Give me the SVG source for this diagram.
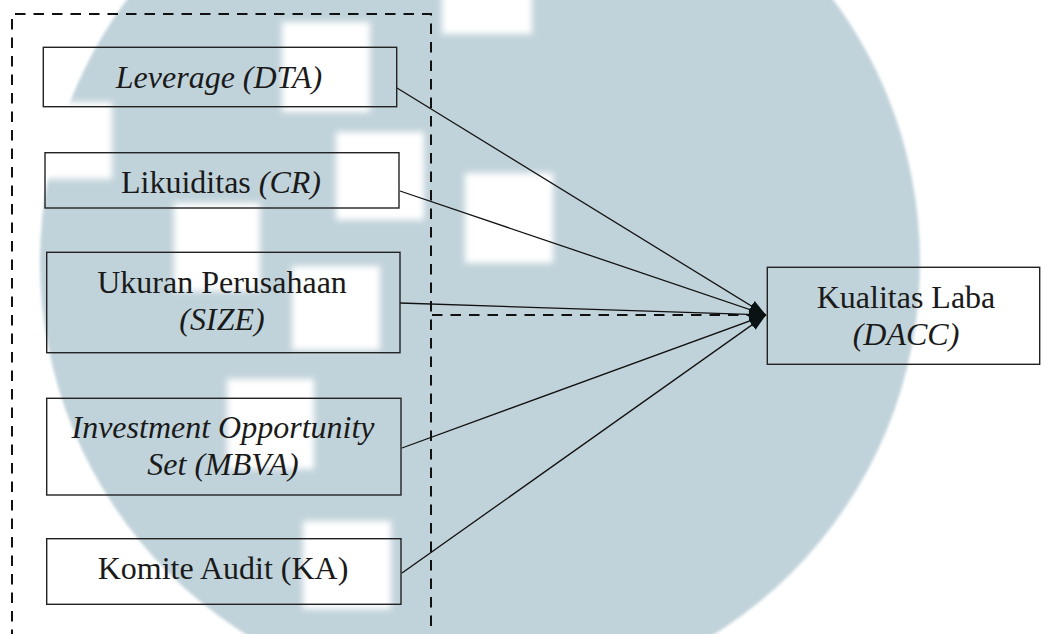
<svg xmlns="http://www.w3.org/2000/svg" width="1041" height="634" viewBox="0 0 1041 634">
  <style>
    .box { fill: none; stroke: #222; stroke-width: 1.4; }
    .lbl { font-family: "Liberation Serif", "Times New Roman", serif; font-size: 32px; fill: #1a1a1a; text-anchor: middle; }
    .it { font-style: italic; }
    .edge { stroke: #111; stroke-width: 1.3; fill: none; marker-end: url(#arr); }
    .dash { stroke: #111; stroke-width: 2; fill: none; stroke-dasharray: 10.5 8; }
    .sq { fill: #ffffff; filter: url(#soft); }
  </style>
  <defs>
    <marker id="arr" markerUnits="userSpaceOnUse" markerWidth="18" markerHeight="13" refX="17" refY="6" orient="auto">
      <path d="M0,0 L17,6 L0,12 z" fill="#0a1214"/>
    </marker>
    <filter id="soft" x="-20%" y="-20%" width="140%" height="140%">
      <feGaussianBlur stdDeviation="3"/>
    </filter>
    <filter id="softc" x="-5%" y="-5%" width="110%" height="110%">
      <feGaussianBlur stdDeviation="1.5"/>
    </filter>
  </defs>
  <rect x="0" y="0" width="1041" height="634" fill="#ffffff"/>
  <g id="watermark">
    <circle cx="480" cy="262" r="440" fill="#c1d3da" filter="url(#softc)"/>
    <rect class="sq" x="-10" y="102" width="122" height="77"/>
    <rect class="sq" x="442" y="-10" width="90" height="44"/>
    <rect class="sq" x="282" y="22" width="88" height="90"/>
    <rect class="sq" x="336" y="132" width="88" height="88"/>
    <rect class="sq" x="465" y="173" width="88" height="90"/>
    <rect class="sq" x="174" y="203" width="86" height="88"/>
    <rect class="sq" x="292" y="266" width="88" height="84"/>
    <rect class="sq" x="227" y="379" width="87" height="90"/>
    <rect class="sq" x="303" y="521" width="88" height="88"/>
  </g>
  <g id="frame">
    <path class="dash" d="M12,640 V14 H431 V640"/>
  </g>
  <g id="connectors">
    <path class="dash" d="M432,315 H753"/>
    <line class="edge" x1="397" y1="88" x2="766" y2="315"/>
    <line class="edge" x1="400" y1="191" x2="766" y2="315"/>
    <line class="edge" x1="400" y1="303" x2="766" y2="315"/>
    <line class="edge" x1="402" y1="448" x2="766" y2="315"/>
    <line class="edge" x1="402" y1="573" x2="766" y2="315"/>
  </g>
  <g id="node-leverage">
    <rect class="box" x="43.3" y="47.3" width="353.4" height="59.4"/>
    <text class="lbl it" x="219" y="88">Leverage (DTA)</text>
  </g>
  <g id="node-likuiditas">
    <rect class="box" x="45" y="152.7" width="354" height="55.3"/>
    <text class="lbl" x="221" y="193">Likuiditas <tspan class="it">(CR)</tspan></text>
  </g>
  <g id="node-size">
    <rect class="box" x="46.7" y="252.3" width="353.3" height="100.4"/>
    <text class="lbl" x="222" y="293">Ukuran Perusahaan</text>
    <text class="lbl it" x="222" y="330">(SIZE)</text>
  </g>
  <g id="node-ios">
    <rect class="box" x="46.7" y="398.3" width="354.3" height="96.7"/>
    <text class="lbl it" x="223" y="438">Investment Opportunity</text>
    <text class="lbl it" x="223" y="475">Set (MBVA)</text>
  </g>
  <g id="node-ka">
    <rect class="box" x="46.7" y="538.7" width="354.3" height="65.6"/>
    <text class="lbl" x="223" y="579">Komite Audit (KA)</text>
  </g>
  <g id="node-dacc">
    <rect class="box" x="767.3" y="267.3" width="272.4" height="97"/>
    <text class="lbl" x="906" y="308">Kualitas Laba</text>
    <text class="lbl it" x="906" y="345">(DACC)</text>
  </g>
</svg>
